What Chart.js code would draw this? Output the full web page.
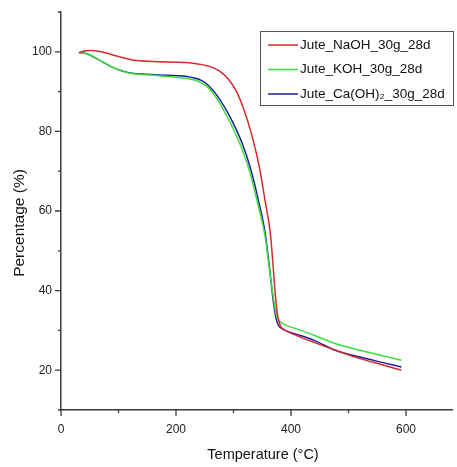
<!DOCTYPE html>
<html>
<head>
<meta charset="utf-8">
<script src="https://cdn.jsdelivr.net/npm/chart.js@4/dist/chart.umd.min.js"></script>
<style>
html,body{margin:0;padding:0;background:#fff;}
#wrap{width:457px;height:467px;position:relative;}
</style>
</head>
<body>
<div id="wrap"><canvas id="c"></canvas></div>
<script>
// ---- data ----
const SERIES_LABELS = ['Jute_NaOH_30g_28d', 'Jute_KOH_30g_28d', 'Jute_Ca(OH)₂_30g_28d'];
const SERIES_COLORS = ['#d42a2e', '#3edd3e', '#1e1e94'];

const T_NAOH = [32, 40, 50, 70, 100, 132, 170, 200, 219, 235, 254, 266, 277, 292, 306, 318, 330, 345, 355, 364, 369, 373, 377, 382, 392, 410, 440, 480, 520, 560, 592];
const V_NAOH = [99.8, 100.2, 100.3, 100.0, 98.8, 97.8, 97.5, 97.4, 97.3, 97.0, 96.5, 95.9, 95.0, 93.0, 89.8, 85.5, 80.0, 71.0, 62.5, 54.5, 46.0, 38.5, 33.5, 31.0, 29.9, 28.7, 27.0, 24.9, 22.9, 21.3, 20.0];

const T_KOH = [31, 40, 50, 62, 75, 90, 104, 120, 140, 170, 219, 232, 244, 256, 270, 288, 300, 315, 329, 342, 355, 362, 369, 375, 381, 390, 407, 440, 477, 520, 560, 592];
const V_KOH = [99.8, 99.7, 99.2, 98.3, 97.2, 96.1, 95.3, 94.6, 94.3, 94.0, 93.3, 92.9, 92.2, 91.0, 88.5, 84.0, 80.5, 75.5, 69.5, 62.0, 53.5, 46.0, 38.5, 33.5, 32.2, 31.4, 30.5, 28.8, 26.7, 25.0, 23.6, 22.5];

const T_CAOH = [31, 40, 50, 62, 75, 90, 104, 120, 140, 170, 219, 232, 244, 256, 270, 288, 303, 315, 329, 342, 355, 362, 369, 374, 378, 385, 395, 410, 440, 477, 520, 560, 592];
const V_CAOH = [99.8, 99.7, 99.2, 98.3, 97.2, 96.1, 95.3, 94.7, 94.4, 94.2, 93.8, 93.4, 92.8, 91.6, 89.3, 85.2, 81.0, 77.0, 71.0, 63.5, 54.5, 46.5, 37.6, 33.0, 31.3, 30.4, 29.7, 29.0, 27.5, 25.0, 23.3, 21.9, 20.8];

const X_MAJOR = [0, 200, 400, 600];
const X_MINOR = [100, 300, 500];
const Y_MAJOR = [20, 40, 60, 80, 100];
const Y_MINOR = [10, 30, 50, 70, 90, 110];
const X_TITLE = 'Temperature (°C)';
const Y_TITLE = 'Percentage (%)';

// ---- build ----
const pts = (t, v) => t.map((x, i) => ({x: x, y: v[i]}));
const seriesData = [pts(T_NAOH, V_NAOH), pts(T_KOH, V_KOH), pts(T_CAOH, V_CAOH)];

const SANS = "'Liberation Sans', Arial, sans-serif";
const AXIS_COLOR = '#3a3a3a';

const ticksAndLegend = {
  id: 'ticksAndLegend',
  afterDraw(chart) {
    const ctx = chart.ctx, xs = chart.scales.x, ys = chart.scales.y;
    const ca = chart.chartArea;
    ctx.save();
    ctx.strokeStyle = AXIS_COLOR;
    ctx.lineWidth = 1.3;
    ctx.beginPath();
    X_MAJOR.forEach(v => { const p = xs.getPixelForValue(v); ctx.moveTo(p, ca.bottom); ctx.lineTo(p, ca.bottom + 6); });
    X_MINOR.forEach(v => { const p = xs.getPixelForValue(v); ctx.moveTo(p, ca.bottom); ctx.lineTo(p, ca.bottom + 3); });
    Y_MAJOR.forEach(v => { const p = ys.getPixelForValue(v); ctx.moveTo(ca.left, p); ctx.lineTo(ca.left - 6, p); });
    Y_MINOR.forEach(v => { const p = ys.getPixelForValue(v); ctx.moveTo(ca.left, p); ctx.lineTo(ca.left - 3, p); });
    ctx.stroke();

    // axis titles
    ctx.fillStyle = '#111';
    ctx.textAlign = 'center';
    ctx.textBaseline = 'middle';
    ctx.font = '14.5px ' + SANS;
    ctx.fillText(X_TITLE, 263, 455);
    ctx.save();
    ctx.translate(20, 223);
    ctx.rotate(-Math.PI / 2);
    ctx.font = '15.5px ' + SANS;
    ctx.fillText(Y_TITLE, 0, 0);
    ctx.restore();

    // legend box
    const bx = 260, by = 31, bw = 193, bh = 74;
    ctx.lineWidth = 1;
    ctx.strokeStyle = '#555';
    ctx.fillStyle = '#fff';
    ctx.fillRect(bx, by, bw, bh);
    ctx.strokeRect(bx + 0.5, by + 0.5, bw, bh);
    ctx.font = '13.5px ' + SANS;
    ctx.textBaseline = 'middle';
    ctx.textAlign = 'left';
    chart.data.datasets.forEach((ds, i) => {
      const yy = 45 + i * 24.5;
      ctx.strokeStyle = ds.borderColor;
      ctx.lineWidth = 1.5;
      ctx.beginPath(); ctx.moveTo(268, yy); ctx.lineTo(298, yy); ctx.stroke();
      ctx.fillStyle = '#111';
      ctx.fillText(ds.label, 300, yy);
    });
    ctx.restore();
  }
};

new Chart(document.getElementById('c'), {
  type: 'scatter',
  data: {
    datasets: seriesData.map((d, i) => ({
      label: SERIES_LABELS[i],
      data: d,
      showLine: true,
      borderColor: SERIES_COLORS[i],
      backgroundColor: SERIES_COLORS[i],
      borderWidth: 1.5,
      pointRadius: 0,
      cubicInterpolationMode: 'monotone',
      fill: false
    }))
  },
  options: {
    responsive: true,
    maintainAspectRatio: false,
    animation: false,
    events: [],
    layout: { padding: { top: 12, right: 5, left: 0, bottom: 0 } },
    plugins: { legend: { display: false }, tooltip: { enabled: false } },
    scales: {
      x: {
        type: 'linear', min: 0, max: 680,
        afterBuildTicks: s => { s.ticks = X_MAJOR.map(v => ({ value: v })); },
        afterFit: s => { s.height = 57; },
        grid: { display: true, drawOnChartArea: false, drawTicks: true, tickLength: 6, tickColor: 'transparent' },
        border: { display: true, color: AXIS_COLOR, width: 1.5 },
        ticks: { color: '#222', font: { family: SANS, size: 12 }, padding: 6, maxRotation: 0 },
        title: { display: false }
      },
      y: {
        type: 'linear', min: 10, max: 110,
        afterBuildTicks: s => { s.ticks = Y_MAJOR.map(v => ({ value: v })); },
        afterFit: s => { s.width = 61; },
        grid: { display: true, drawOnChartArea: false, drawTicks: true, tickLength: 6, tickColor: 'transparent' },
        border: { display: true, color: AXIS_COLOR, width: 1.5 },
        ticks: { color: '#222', font: { family: SANS, size: 12 }, padding: 3 },
        title: { display: false }
      }
    }
  },
  plugins: [ticksAndLegend]
});
</script>
</body>
</html>
